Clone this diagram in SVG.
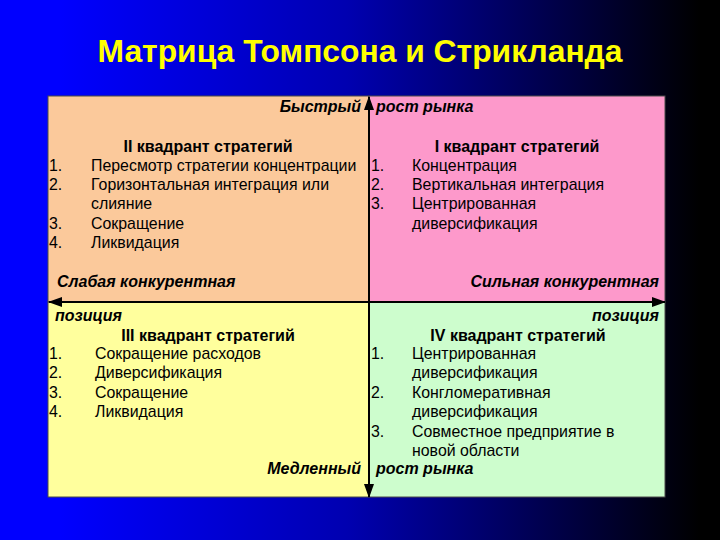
<svg xmlns="http://www.w3.org/2000/svg" width="720" height="540" viewBox="0 0 720 540">
<defs>
<linearGradient id="bg" gradientUnits="userSpaceOnUse" x1="60" y1="0" x2="700" y2="0">
<stop offset="0" stop-color="#0000ff"/>
<stop offset="0.45" stop-color="#0000b0"/>
<stop offset="1" stop-color="#000000"/>
</linearGradient>
<marker id="ah" viewBox="0 0 14 10" refX="13" refY="5" markerWidth="14" markerHeight="10" markerUnits="userSpaceOnUse" orient="auto-start-reverse">
<path d="M0,0 L14,5 L0,10 Z" fill="#000"/>
</marker>
<style>
.t{font-family:"Liberation Sans",Arial,sans-serif;font-size:15.9px;fill:#000}
.h{font-family:"Liberation Sans",Arial,sans-serif;font-size:16px;font-weight:bold;fill:#000;text-anchor:middle}
.ax{font-family:"Liberation Sans",Arial,sans-serif;font-size:16px;font-weight:bold;font-style:italic;fill:#000}
.q{stroke:#4a4a4a;stroke-width:1}
.axis{stroke:#000;stroke-width:2;fill:none}
</style>
</defs>
<rect x="0" y="0" width="720" height="540" fill="url(#bg)"/>
<text x="360" y="62" text-anchor="middle" font-family="'Liberation Sans',Arial,sans-serif" font-size="32" font-weight="bold" fill="#ffff00" textLength="525" lengthAdjust="spacingAndGlyphs">Матрица Томпсона и Стрикланда</text>

<g id="q2">
<rect class="q" x="48" y="96" width="321" height="206" fill="#fbc99b"/>
<text class="h" x="208" y="152">II квадрант стратегий</text>
<text class="t" x="49" y="171">1.</text><text class="t" x="91" y="171">Пересмотр стратегии концентрации</text>
<text class="t" x="49" y="190">2.</text><text class="t" x="91" y="190">Горизонтальная интеграция или</text>
<text class="t" x="91" y="209">слияние</text>
<text class="t" x="49" y="229">3.</text><text class="t" x="91" y="229">Сокращение</text>
<text class="t" x="49" y="248">4.</text><text class="t" x="91" y="248">Ликвидация</text>
</g>
<g id="q1">
<rect class="q" x="369" y="96" width="296" height="206" fill="#fd99cb"/>
<text class="h" x="517" y="152">I квадрант стратегий</text>
<text class="t" x="371" y="171">1.</text><text class="t" x="412" y="171">Концентрация</text>
<text class="t" x="371" y="190">2.</text><text class="t" x="412" y="190">Вертикальная интеграция</text>
<text class="t" x="371" y="209">3.</text><text class="t" x="412" y="209">Центрированная</text>
<text class="t" x="412" y="229">диверсификация</text>
</g>
<g id="q3">
<rect class="q" x="48" y="302" width="321" height="195" fill="#ffff9d"/>
<text class="h" x="208" y="341">III квадрант стратегий</text>
<text class="t" x="49" y="359">1.</text><text class="t" x="95" y="359">Сокращение расходов</text>
<text class="t" x="49" y="378">2.</text><text class="t" x="95" y="378">Диверсификация</text>
<text class="t" x="49" y="398">3.</text><text class="t" x="95" y="398">Сокращение</text>
<text class="t" x="49" y="417">4.</text><text class="t" x="95" y="417">Ликвидация</text>
</g>
<g id="q4">
<rect class="q" x="369" y="302" width="296" height="195" fill="#cdfdcd"/>
<text class="h" x="518" y="341">IV квадрант стратегий</text>
<text class="t" x="371" y="359">1.</text><text class="t" x="412" y="359">Центрированная</text>
<text class="t" x="412" y="378">диверсификация</text>
<text class="t" x="371" y="398">2.</text><text class="t" x="412" y="398">Конгломеративная</text>
<text class="t" x="412" y="417">диверсификация</text>
<text class="t" x="371" y="437">3.</text><text class="t" x="412" y="437">Совместное предприятие в</text>
<text class="t" x="412" y="456">новой области</text>
</g>

<g id="connectors">
<line class="axis" x1="369" y1="97" x2="369" y2="497" marker-start="url(#ah)" marker-end="url(#ah)"/>
<line class="axis" x1="49" y1="302" x2="665" y2="302" marker-start="url(#ah)" marker-end="url(#ah)"/>
</g>

<g id="axis-labels">
<text class="ax" x="361" y="112" text-anchor="end">Быстрый</text>
<text class="ax" x="376" y="112">рост рынка</text>
<text class="ax" x="361" y="474" text-anchor="end">Медленный</text>
<text class="ax" x="376" y="474">рост рынка</text>
<text class="ax" x="57" y="287">Слабая конкурентная</text>
<text class="ax" x="55" y="321">позиция</text>
<text class="ax" x="659" y="287" text-anchor="end">Сильная конкурентная</text>
<text class="ax" x="659" y="321" text-anchor="end">позиция</text>
</g>
</svg>
